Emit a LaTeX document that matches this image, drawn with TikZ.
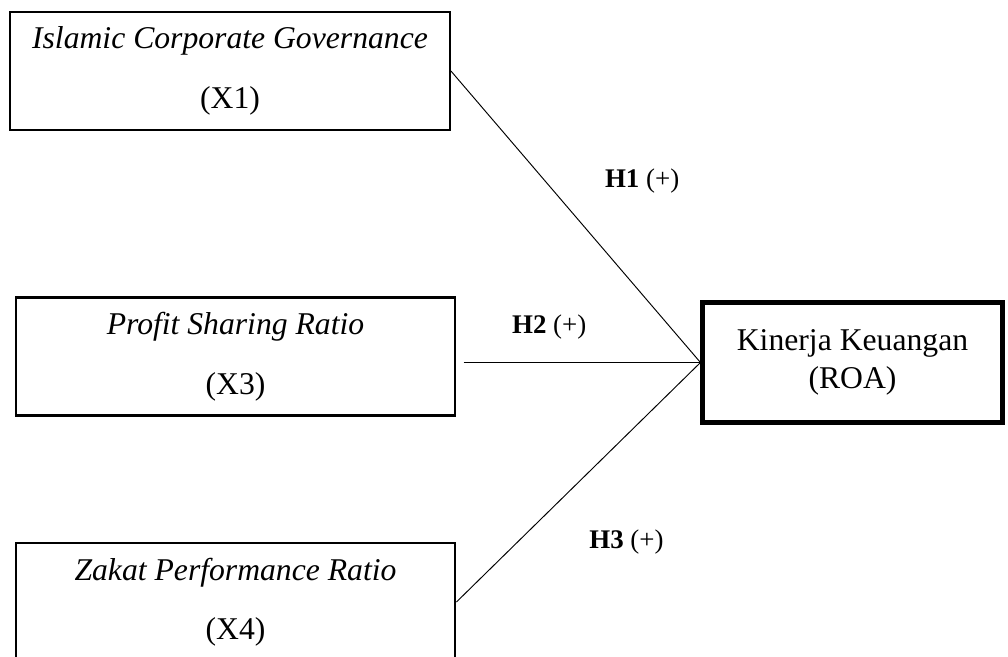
\documentclass[tikz,border=0pt]{standalone}
\usepackage{fontspec}
\setmainfont{Liberation Serif}
\usetikzlibrary{positioning}
\tikzset{
  varbox/.style={rectangle, draw, line width=1pt, minimum width=184.6pt, minimum height=49.6pt, inner sep=0pt, align=center, font=\fontsize{13.3}{25}\selectfont},
  depbox/.style={rectangle, draw, line width=2.1pt, minimum width=125.6pt, minimum height=50.8pt, inner sep=0pt, align=center, font=\fontsize{13.3}{16}\selectfont},
  link/.style={thin},
  hyp/.style={inner sep=0pt, font=\fontsize{11.3}{13}\selectfont},
}
\begin{document}
\begin{tikzpicture}[x=0.42pt, y=-0.42pt]
  \useasboundingbox (0,0) rectangle (1008,657);
  \clip (0,0) rectangle (1008,657);

  \node[varbox] (icg) at (230,71) {\textit{Islamic Corporate Governance}\\(X1)};
  \node[varbox] (psr) at (235.5,356.5) {\textit{Profit Sharing Ratio}\\(X3)};
  \node[varbox] (zpr) at (235.5,602) {\textit{Zakat Performance Ratio}\\(X4)};
  \node[depbox] (roa) at (852.5,362.5) {Kinerja Keuangan\\(ROA)};

  \draw[link] (icg.east) -- (roa.west) node[hyp, pos=0.377, right=25pt] {\textbf{H1} (+)};
  \draw[link, shorten <=3pt] (psr.east |- roa.west) -- (roa.west) node[hyp, pos=0.38, above=9.7pt] {\textbf{H2} (+)};
  \draw[link] (zpr.east) -- (roa.west) node[hyp, pos=0.25, right=30pt] {\textbf{H3} (+)};
\end{tikzpicture}
\end{document}
